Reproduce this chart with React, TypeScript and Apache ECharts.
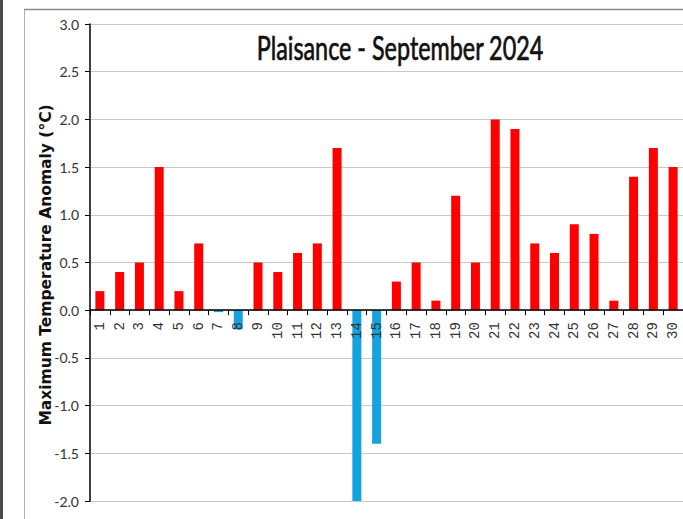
import React, { useEffect, useRef } from "react";
import * as echarts from "echarts";

const days: string[] = Array.from({ length: 30 }, (_, i) => String(i + 1));
const anomalies: number[] = [
  0.2, 0.4, 0.5, 1.5, 0.2, 0.7, -0.02, -0.2, 0.5, 0.4,
  0.6, 0.7, 1.7, -2.0, -1.4, 0.3, 0.5, 0.1, 1.2, 0.5,
  2.0, 1.9, 0.7, 0.6, 0.9, 0.8, 0.1, 1.4, 1.7, 1.5,
];
const titleText = "Plaisance - September 2024";
const yAxisTitle = "Maximum Temperature Anomaly (°C)";
const warmColor = "#ff0000";
const coolColor = "#14a3e0";

export default function App() {
  const ref = useRef<HTMLDivElement>(null);
  useEffect(() => {
    if (!ref.current) return;
    const chart = echarts.init(ref.current, null, { renderer: "svg" });
    chart.setOption({
      animation: false,
      backgroundColor: "#ffffff",
      grid: { left: 90, right: 0, top: 24, bottom: 18, containLabel: false, outerBoundsMode: "none" },
      xAxis: {
        type: "category",
        data: days,
        boundaryGap: true,
        position: "bottom",
        offset: -190.8,
        z: 5,
        axisLine: { onZero: false, lineStyle: { color: "#000", width: 1.5 } },
        axisTick: { show: true, alignWithLabel: false, length: 5, lineStyle: { color: "#000" } },
        axisLabel: {
          interval: 0,
          rotate: 90,
          margin: 12,
          fontFamily: "Liberation Mono",
          fontSize: 14,
          color: "#333",
        },
        splitLine: { show: false },
      },
      yAxis: {
        type: "value",
        min: -2,
        max: 3,
        interval: 0.5,
        axisLine: { show: true, lineStyle: { color: "#000", width: 1.5 } },
        axisTick: { show: true, length: 5, lineStyle: { color: "#000" } },
        axisLabel: {
          margin: 11,
          fontFamily: "Lato",
          fontSize: 14,
          color: "#333",
          formatter: (v: number) => v.toFixed(1),
        },
        splitLine: { show: true, lineStyle: { color: "#c8c8c8", width: 1 } },
      },
      series: [
        {
          type: "bar",
          data: anomalies,
          barWidth: 9,
          itemStyle: {
            color: (p: any) => (p.value < 0 ? coolColor : warmColor),
          },
        },
      ],
      graphic: [
        { type: "rect", shape: { x: 0, y: 0, width: 3, height: 519 }, style: { fill: "#4a4a4a" }, z: 10 },
        { type: "line", shape: { x1: 24.5, y1: 9, x2: 24.5, y2: 519 }, style: { stroke: "#b0b0b0", lineWidth: 1 }, z: 10 },
        { type: "line", shape: { x1: 24, y1: 9.5, x2: 683, y2: 9.5 }, style: { stroke: "#8a8a8a", lineWidth: 1.5 }, z: 10 },
        {
          type: "text",
          x: 400,
          y: 47,
          z: 10,
          scaleX: 0.73,
          style: {
            text: titleText,
            fontFamily: "Lato",
            fontSize: 32,
            fontWeight: "normal",
            fill: "#111",
            stroke: "#111",
            lineWidth: 0.7,
            align: "center",
            verticalAlign: "middle",
          },
        },
        {
          type: "text",
          x: 46,
          y: 265,
          rotation: Math.PI / 2,
          z: 10,
          style: {
            text: yAxisTitle,
            fontFamily: "DejaVu Sans",
            fontSize: 15.5,
            fontWeight: "bold",
            fill: "#111",
            align: "center",
            verticalAlign: "middle",
          },
        },
      ],
    });
    return () => chart.dispose();
  }, []);
  return (
    <div
      ref={ref}
      style={{ position: "fixed", left: 0, top: 0, width: 683, height: 519 }}
    />
  );
}
